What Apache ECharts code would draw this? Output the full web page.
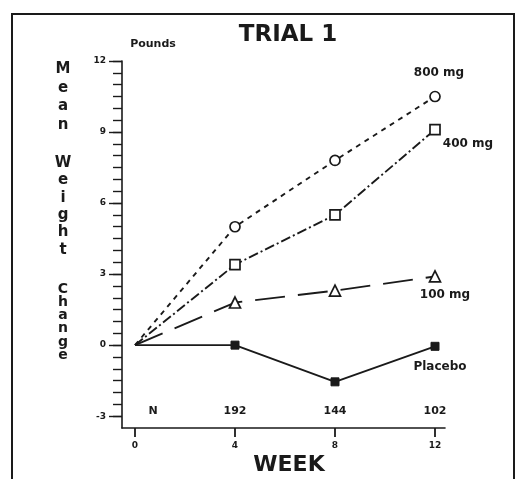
<!DOCTYPE html>
<html><head><meta charset="utf-8">
<script src="https://cdn.jsdelivr.net/npm/echarts@6/dist/echarts.min.js"></script>
<style>html,body{margin:0;padding:0;background:#fff}#c{width:516px;height:479px}</style>
</head><body><div id="c"></div>
<script>
const weeks = [0, 4, 8, 12];
const mg800 = [0, 5.0, 7.8, 10.5];
const mg400 = [0, 3.4, 5.5, 9.1];
const mg100 = [0, 1.8, 2.3, 2.9];
const placebo = [0, 0, -1.55, -0.05];
const seriesNames = ['800 mg', '400 mg', '100 mg', 'Placebo'];
const nWeeks = [0.72, 4, 8, 12];
const nLabels = ['N', '192', '144', '102'];
const nRowY = -2.79;
const yTicks = [-3, 0, 3, 6, 9, 12];
const yMinorStep = 0.5;
const xTicks = [0, 4, 8, 12];
const yMin = -3.5;

const yMinor = [];
for (let v = yTicks[0]; v <= yTicks[yTicks.length - 1] + 1e-9; v += yMinorStep) yMinor.push(+v.toFixed(2));

const FONT = 'DejaVu Sans';
const INK = '#1a1a1a';

function pts(vals) {
  return weeks.map((w, i) => (i === 0 ? { value: [w, vals[i]], symbol: 'none' } : { value: [w, vals[i]] }));
}
function endLabel(data, opts) {
  const last = data[data.length - 1];
  last.label = Object.assign({ show: true, fontFamily: FONT, fontWeight: 'bold', fontSize: 12, color: INK }, opts);
  return data;
}

const chart = echarts.init(document.getElementById('c'), null, { renderer: 'canvas' });
const common = { type: 'line', symbolSize: 10, z: 3, animation: false };

const baseGraphic = [
  { type: 'rect', shape: { x: 12, y: 14, width: 502, height: 490 }, style: { fill: 'none', stroke: INK, lineWidth: 2 }, z: 0 },
  { type: 'text', style: { text: 'TRIAL 1', x: 288, y: 35, textAlign: 'center', textVerticalAlign: 'middle', font: 'bold 23px "DejaVu Sans"', fill: INK } },
  { type: 'text', style: { text: 'Pounds', x: 153, y: 44, textAlign: 'center', textVerticalAlign: 'middle', font: 'bold 11px "DejaVu Sans"', fill: INK } },
  { type: 'text', style: { text: 'WEEK', x: 289, y: 465, textAlign: 'center', textVerticalAlign: 'middle', font: 'bold 22px "DejaVu Sans"', fill: INK } },
  { type: 'text', style: { text: 'M\ne\na\nn', x: 63, y: 69 - 9.3, textAlign: 'center', textVerticalAlign: 'top', lineHeight: 18.7, font: 'bold 15px "DejaVu Sans"', fill: INK } },
  { type: 'text', style: { text: 'W\ne\ni\ng\nh\nt', x: 63, y: 163 - 8.7, textAlign: 'center', textVerticalAlign: 'top', lineHeight: 17.4, font: 'bold 15px "DejaVu Sans"', fill: INK } },
  { type: 'text', style: { text: 'C\nh\na\nn\ng\ne', x: 63, y: 289 - 6.7, textAlign: 'center', textVerticalAlign: 'top', lineHeight: 13.3, font: 'bold 14px "DejaVu Sans"', fill: INK } }
];

chart.setOption({
  backgroundColor: '#fff',
  animation: false,
  grid: { left: 122, top: 61, right: 71, bottom: 51 },
  xAxis: {
    type: 'value', min: -0.52, max: 12.4,
    axisLine: { show: true, onZero: false, lineStyle: { color: INK, width: 1.6 } },
    axisTick: { show: false },
    axisLabel: { customValues: xTicks, color: INK, fontFamily: FONT, fontWeight: 'bold', fontSize: 9, margin: 13 },
    splitLine: { show: false }
  },
  yAxis: [
    {
      type: 'value', min: yMin, max: 12,
      axisLine: { show: true, onZero: false, lineStyle: { color: INK, width: 1.6 } },
      axisTick: { show: true, customValues: yMinor, length: 9, lineStyle: { color: INK, width: 1.4 } },
      axisLabel: { show: false },
      splitLine: { show: false }
    },
    {
      type: 'value', min: yMin, max: 12, position: 'left',
      axisLine: { show: false, onZero: false },
      axisTick: { show: true, customValues: yTicks, length: 13, lineStyle: { color: INK, width: 1.4 } },
      axisLabel: { customValues: yTicks, color: INK, fontFamily: FONT, fontWeight: 'bold', fontSize: 9, margin: 16 },
      splitLine: { show: false }
    }
  ],
  graphic: baseGraphic,
  series: [
    Object.assign({}, common, {
      name: seriesNames[0], symbol: 'circle',
      data: endLabel(pts(mg800), { formatter: seriesNames[0], position: 'top', distance: 12, offset: [4, 0] }),
      lineStyle: { color: INK, width: 1.9, type: [5, 5] },
      itemStyle: { color: '#fff', borderColor: INK, borderWidth: 1.7 }
    }),
    Object.assign({}, common, {
      name: seriesNames[1], symbol: 'rect',
      data: endLabel(pts(mg400), { formatter: seriesNames[1], position: 'right', distance: 2, offset: [0, 14] }),
      lineStyle: { color: INK, width: 1.9, type: [10, 3, 2, 3] },
      itemStyle: { color: '#fff', borderColor: INK, borderWidth: 1.7 }
    }),
    Object.assign({}, common, {
      name: seriesNames[2], symbol: 'triangle', symbolSize: 11,
      data: endLabel(pts(mg100), { formatter: seriesNames[2], position: 'bottom', distance: 6, offset: [10, 0] }),
      lineStyle: { color: INK, width: 1.9, type: [30, 13] },
      itemStyle: { color: '#fff', borderColor: INK, borderWidth: 1.7 }
    }),
    Object.assign({}, common, {
      name: seriesNames[3], symbol: 'rect', symbolSize: 8,
      data: endLabel(pts(placebo), { formatter: seriesNames[3], position: 'bottom', distance: 10, offset: [5, 0] }),
      lineStyle: { color: INK, width: 1.9, type: 'solid' },
      itemStyle: { color: INK, borderColor: INK, borderWidth: 1 }
    }),
    {
      type: 'scatter', symbol: 'circle', symbolSize: 2, silent: true, z: 2,
      itemStyle: { color: 'rgba(255,255,255,0)' },
      data: nWeeks.map((w, i) => ({ value: [w, nRowY], name: nLabels[i] })),
      label: { show: true, position: 'top', distance: -6, formatter: p => p.name, fontFamily: FONT, fontWeight: 'bold', fontSize: 11, color: INK, textBorderWidth: 0, opacity: 1 }
    }
  ]
});

// x-axis ticks placed through the chart's own x scale
const tickLines = xTicks.map(v => {
  const p = chart.convertToPixel({ xAxisIndex: 0, yAxisIndex: 0 }, [v, yMin]);
  return { type: 'line', shape: { x1: p[0], y1: p[1], x2: p[0], y2: p[1] + 9 }, style: { stroke: INK, lineWidth: 1.8 }, z: 5 };
});
chart.setOption({ graphic: baseGraphic.concat(tickLines) });
</script></body></html>
